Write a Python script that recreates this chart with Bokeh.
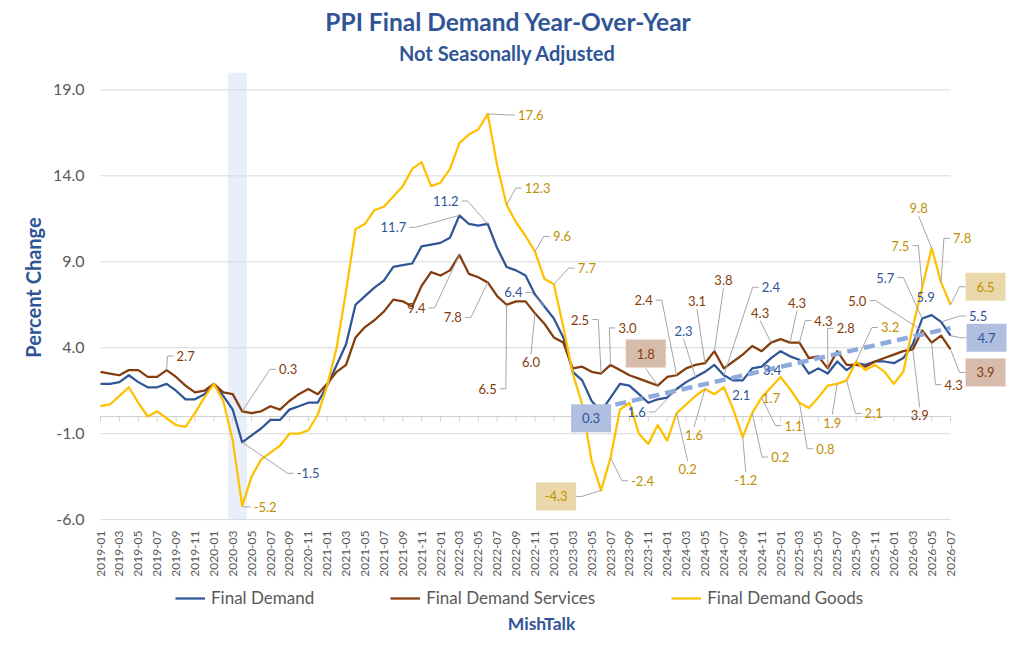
import math
from bokeh.plotting import figure
from bokeh.models import ColumnDataSource, Legend, LegendItem, Range1d
from bokeh.core.properties import value
from bokeh.embed import file_html
from bokeh.resources import INLINE

# ---------------- data ----------------
months = [f"{y}-{m:02d}" for y in range(2019, 2027) for m in range(1, 13)][:91]

final_demand = [1.9, 1.9, 2.0, 2.4, 2.0, 1.7, 1.7, 1.9, 1.5, 1.0, 1.0, 1.3,
                1.9, 1.2, 0.4, -1.5, -1.1, -0.7, -0.2, -0.2, 0.4, 0.6, 0.8, 0.8,
                1.8, 3.0, 4.2, 6.5, 7.0, 7.5, 7.9, 8.7, 8.8, 8.9, 9.9, 10.0,
                10.1, 10.4, 11.7, 11.2, 11.1, 11.2, 9.8, 8.7, 8.5, 8.2, 7.1, 6.4,
                5.7, 4.6, 2.6, 2.1, 0.9, 0.3, 1.1, 1.9, 1.8, 1.3, 0.8, 1.0,
                1.1, 1.6, 2.0, 2.3, 2.6, 3.0, 2.4, 2.1, 2.1, 2.8, 2.9, 3.4,
                3.8, 3.5, 3.3, 2.5, 2.8, 2.5, 3.2, 2.7, 3.1, 3.0, 3.2, 3.2,
                3.1, 3.4, 4.2, 5.7, 5.9, 5.5, 4.7]

services = [2.6, 2.5, 2.4, 2.7, 2.7, 2.3, 2.3, 2.7, 2.3, 1.8, 1.4, 1.5,
            1.9, 1.4, 1.3, 0.3, 0.2, 0.3, 0.6, 0.4, 0.9, 1.3, 1.6, 1.3,
            1.9, 2.6, 3.0, 4.6, 5.2, 5.6, 6.1, 6.8, 6.7, 6.4, 7.6, 8.4,
            8.2, 8.5, 9.4, 8.3, 8.1, 7.8, 7.0, 6.5, 6.7, 6.7, 6.0, 5.4,
            4.6, 4.3, 2.8, 2.9, 2.6, 2.5, 3.0, 2.7, 2.4, 2.2, 2.0, 1.8,
            2.3, 2.4, 2.8, 3.0, 3.1, 3.8, 2.8, 3.2, 3.6, 4.1, 3.8, 4.3,
            4.5, 4.3, 4.3, 3.4, 3.5, 2.8, 3.8, 3.0, 3.0, 2.9, 3.2, 3.4,
            3.6, 3.8, 3.9, 5.0, 4.3, 4.7, 3.9]

goods = [0.6, 0.7, 1.2, 1.7, 0.8, 0.0, 0.3, -0.1, -0.5, -0.6, 0.2, 1.1,
         1.9, 0.9, -1.4, -5.2, -3.5, -2.5, -2.1, -1.7, -1.0, -1.0, -0.8, 0.1,
         1.8, 4.0, 7.3, 10.9, 11.2, 12.0, 12.2, 12.8, 13.4, 14.4, 14.8, 13.4,
         13.6, 14.4, 15.9, 16.4, 16.7, 17.6, 14.6, 12.3, 11.3, 10.5, 9.6, 8.0,
         7.7, 5.2, 2.5, 0.7, -2.6, -4.3, -2.4, 0.4, 0.8, -1.0, -1.6, -0.5,
         -1.4, 0.2, 0.7, 1.2, 1.6, 1.3, 1.7, 0.4, -1.2, 0.2, 1.1, 1.7,
         2.3, 1.6, 0.8, 0.5, 1.1, 1.8, 1.9, 2.1, 3.2, 2.7, 3.0, 2.6,
         1.9, 2.6, 5.2, 7.5, 9.8, 7.8, 6.5]

series_names = ["Final Demand", "Final Demand Services", "Final Demand Goods"]
recession_months = ["2020-03", "2020-04"]
trend_months = ["2023-04", "2026-07"]
trend_values = [0.25, 5.15]
y_ticks = [-6, -1, 4, 9, 14, 19]
y_tick_labels = [f"{t:.1f}" for t in y_ticks]
y_plot_top = 20

# ---------------- layout ----------------
PXM = 9.445      # pixels per month
PXU = 17.19      # pixels per percent
X0, Y0 = 100, 416  # canvas px of first month / zero line

def X(px):
    return (px - X0) / PXM

def Y(py):
    return (Y0 - py) / PXU

series = {"final": final_demand, "services": services, "goods": goods}
line_colors = {"final": "#2f5597", "services": "#843c0c", "goods": "#ffc000"}
label_colors = {"final": "#2f5597", "services": "#843c0c", "goods": "#bf9000"}
box_colors = {"final": "#b0bfe0", "services": "#d8bcab", "goods": "#ead8aa"}

# annotation layout: series, month, dx px, dy px, leader side, boxed
annotations = [
    ("services", "2019-08", 19, -14, "l", 0),
    ("services", "2020-04", 46, -42, "l", 0),
    ("final", "2020-04", 66, 31, "l", 0),
    ("goods", "2020-04", 23, 1, "l", 0),
    ("final", "2022-03", -66, 12, "r", 0),
    ("final", "2022-06", -42, -23, "r", 0),
    ("goods", "2022-06", 43, 1, "l", 0),
    ("goods", "2022-08", 31, -17, "l", 0),
    ("goods", "2022-11", 27, -15, "l", 0),
    ("goods", "2023-01", 33, -16, "l", 0),
    ("services", "2022-03", -43, 53, "r", 0),
    ("services", "2022-06", -35, 35, "r", 0),
    ("final", "2022-12", -31, -14, "r", 0),
    ("services", "2022-08", -19, 84, "r", 0),
    ("services", "2022-11", -4, 49, "t", 0),
    ("services", "2023-06", -21, -54, "r", 0),
    ("services", "2023-07", 17, -37, "l", 0),
    ("services", "2023-12", -12, -32, "b", 1),
    ("final", "2023-06", -10, 7, None, 1),
    ("goods", "2023-06", -45, 6, "r", 1),
    ("goods", "2023-07", 32, 23, "l", 0),
    ("final", "2024-02", -40, 23, "r", 0),
    ("services", "2024-02", -33, -75, "r", 0),
    ("final", "2024-04", -12, -46, "b", 0),
    ("services", "2024-05", -8, -62, "b", 0),
    ("services", "2024-06", 9, -71, "b", 0),
    ("goods", "2024-05", -11, 46, "t", 0),
    ("goods", "2024-02", 11, 56, "t", 0),
    ("final", "2024-08", 8, 15, None, 0),
    ("final", "2024-07", 47, -88, "l", 0),
    ("services", "2024-12", -11, -30, "b", 0),
    ("goods", "2024-09", 3, 43, "t", 0),
    ("goods", "2024-12", 0, 11, None, 0),
    ("goods", "2024-11", 32, 28, "l", 0),
    ("goods", "2024-10", 28, 44, "l", 0),
    ("final", "2024-12", 1, 12, None, 0),
    ("services", "2025-02", 7, -40, "b", 0),
    ("services", "2025-03", 24, -22, "l", 0),
    ("services", "2025-06", 18, -40, "l", 0),
    ("goods", "2025-07", -5, 39, "t", 0),
    ("goods", "2025-03", 26, 46, "l", 0),
    ("goods", "2025-08", 27, 33, "l", 0),
    ("goods", "2025-09", 34, -34, "l", 0),
    ("services", "2026-04", -65, -30, "r", 0),
    ("final", "2026-04", -37, -41, "r", 0),
    ("final", "2026-05", -6, -18, None, 0),
    ("goods", "2026-04", -22, -42, "r", 0),
    ("goods", "2026-05", -13, -40, "b", 0),
    ("goods", "2026-06", 21, -44, "l", 0),
    ("goods", "2026-07", 35, -18, "l", 1),
    ("final", "2026-06", 37, -6, "l", 0),
    ("final", "2026-07", 36, 2, "l", 1),
    ("services", "2026-07", 35, 23, "l", 1),
    ("services", "2026-05", 22, 42, "l", 0),
    ("services", "2026-03", 7, 66, "t", 0),
]

FONT = value("Lato")
W, H = 1016, 646
p = figure(width=W, height=H, output_backend="svg", toolbar_location=None,
           x_range=Range1d(X(0), X(W)), y_range=Range1d(Y(H), Y(0)),
           x_axis_location=None, y_axis_location=None, min_border=0,
           outline_line_color=None, background_fill_color="white")
p.xgrid.visible = False
p.ygrid.visible = False

idx = list(range(len(months)))
last = idx[-1]

# recession band
r0 = months.index(recession_months[0]) - 0.5
r1 = months.index(recession_months[-1]) + 0.5
p.quad(left=[r0], right=[r1], bottom=[y_ticks[0]], top=[y_plot_top],
       fill_color="#e8eff9", line_color=None)

# gridlines
p.segment(x0=[0] * len(y_ticks), x1=[last] * len(y_ticks), y0=y_ticks, y1=y_ticks,
          line_color="#d9d9d9", line_width=1)

# y tick labels and axis title
p.text(x=[X(84)] * len(y_ticks), y=y_ticks, text=y_tick_labels, text_align="right",
       text_baseline="middle", text_font=FONT, text_font_size="16px",
       text_color="#595959")
p.text(x=[X(32)], y=[Y(287)], text=["Percent Change"], angle=math.pi / 2,
       text_align="center", text_baseline="middle", text_font=FONT,
       text_font_style="bold", text_font_size="20px", text_color="#2f5597")

# zero axis line with tick marks
p.segment(x0=[0], x1=[last], y0=[0], y1=[0], line_color="#d0d0d0", line_width=1)
tick_idx = idx[::2]
p.segment(x0=tick_idx, x1=tick_idx, y0=[0] * len(tick_idx),
          y1=[-5 / PXU] * len(tick_idx), line_color="#d0d0d0", line_width=1)

# x tick labels (rotated)
p.text(x=tick_idx, y=[Y(530)] * len(tick_idx), text=months[::2], angle=math.pi / 2,
       text_align="right", text_baseline="middle", text_font=FONT,
       text_font_size="12px", text_color="#595959")

# series lines
renderers = {}
for key in ["final", "services", "goods"]:
    renderers[key] = p.line(idx, series[key], line_color=line_colors[key],
                            line_width=2.25, line_join="round")

# trend line
p.line([months.index(m) for m in trend_months], trend_values,
       line_color="#8faadc", line_width=4.5, line_dash="11 6")

# annotations
def tw(s):
    return sum(7.5 if c.isdigit() else (3.4 if c == "." else 4.6) for c in s)

lead_xs, lead_ys = [], []
lab = {"x": [], "y": [], "text": [], "color": []}
box = {"x": [], "y": [], "color": []}
for key, m, dx, dy, side, boxed in annotations:
    i = months.index(m)
    v = series[key][i]
    txt = f"{v:.1f}"
    w = 40 if boxed else tw(txt)
    h = 28 if boxed else 14
    pad = 0 if boxed else 3
    if side == "l":
        pts = [(0, 0), (dx - w / 2 - pad - 6, dy), (dx - w / 2 - pad, dy)]
    elif side == "r":
        pts = [(0, 0), (dx + w / 2 + pad + 6, dy), (dx + w / 2 + pad, dy)]
    elif side == "t":
        pts = [(0, 0), (dx, dy - h / 2 - 1)]
    elif side == "b":
        pts = [(0, 0), (dx, dy + h / 2 + 1)]
    else:
        pts = None
    if pts:
        lead_xs.append([i + a / PXM for a, b in pts])
        lead_ys.append([v - b / PXU for a, b in pts])
    lx, ly = i + dx / PXM, v - dy / PXU
    lab["x"].append(lx)
    lab["y"].append(ly)
    lab["text"].append(txt)
    lab["color"].append(label_colors[key])
    if boxed:
        box["x"].append(lx)
        box["y"].append(ly)
        box["color"].append(box_colors[key])

p.multi_line(lead_xs, lead_ys, line_color="#a6a6a6", line_width=1)
p.rect(x="x", y="y", width=40, height=28, width_units="screen", height_units="screen",
       fill_color="color", line_color=None, source=ColumnDataSource(box))
p.text(x="x", y="y", text="text", text_color="color", text_align="center",
       text_baseline="middle", text_font=FONT, text_font_size="13px",
       source=ColumnDataSource(lab))

# titles and footer
p.text(x=[X(508)], y=[Y(21)], text=["PPI Final Demand Year-Over-Year"],
       text_align="center", text_baseline="middle", text_font=FONT,
       text_font_style="bold", text_font_size="24.5px", text_color="#2f5597")
p.text(x=[X(507)], y=[Y(52)], text=["Not Seasonally Adjusted"],
       text_align="center", text_baseline="middle", text_font=FONT,
       text_font_style="bold", text_font_size="20px", text_color="#2f5597")
p.text(x=[X(541)], y=[Y(623)], text=["MishTalk"],
       text_align="center", text_baseline="middle", text_font=FONT,
       text_font_style="bold", text_font_size="17.5px", text_color="#2f5597")

legend = Legend(items=[LegendItem(label=n, renderers=[renderers[k]])
                       for n, k in zip(series_names, ["final", "services", "goods"])],
                location=(175, 38), orientation="horizontal", padding=0,
                margin=0, spacing=76, glyph_width=30, glyph_height=18, label_standoff=6,
                label_height=18, label_text_font="Lato", label_text_font_size="17px",
                label_text_color="#595959", border_line_color=None,
                background_fill_alpha=0)
p.add_layout(legend)

open("out.html", "w").write(file_html(p, INLINE))
